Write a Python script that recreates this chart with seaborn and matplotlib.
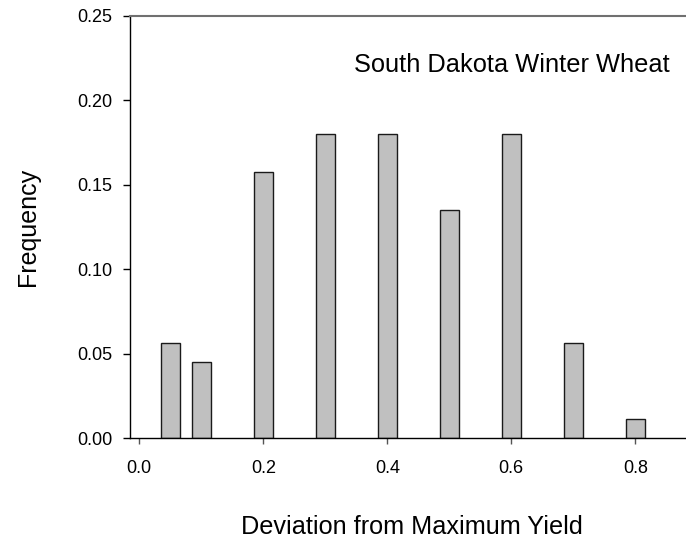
import matplotlib
matplotlib.use("Agg")
import matplotlib.pyplot as plt
import seaborn as sns
import pandas as pd

# Relative frequency of yield deviation classes
deviation = [0.05, 0.1, 0.2, 0.3, 0.4, 0.5, 0.6, 0.7, 0.8]
frequency = [0.0562, 0.0449, 0.1573, 0.1798, 0.1798, 0.1348, 0.1798, 0.0562, 0.0112]
x_ticks = [0.0, 0.2, 0.4, 0.6, 0.8]
y_ticks = [0.00, 0.05, 0.10, 0.15, 0.20, 0.25]

sns.set_theme(style="white")
plt.rcParams["font.family"] = ["Liberation Sans", "DejaVu Sans"]
plt.rcParams["text.color"] = "black"
plt.rcParams["axes.labelcolor"] = "black"
plt.rcParams["xtick.color"] = "black"
plt.rcParams["ytick.color"] = "black"

W, H = 686, 541
fig = plt.figure(figsize=(W / 100, H / 100), dpi=100)
left, right, bottom, top = 129.5, 686, 438.3, 15.7
ax = fig.add_axes([left / W, (H - bottom) / H, (right - left) / W, (bottom - top) / H])

df = pd.DataFrame({"deviation": deviation, "frequency": frequency})
sns.barplot(data=df, x="deviation", y="frequency", native_scale=True, width=0.6,
            color="#c0c0c0", saturation=1, edgecolor="#1a1a1a", linewidth=1.0, ax=ax)

x0 = 139.3
px_per_unit = 620.0
ax.set_xlim((left - x0) / px_per_unit, (right - x0) / px_per_unit)
ax.set_ylim(0, 0.25)
ax.set_xticks(x_ticks)
ax.set_xticklabels([f"{v:.1f}" for v in x_ticks])
ax.set_yticks(y_ticks)
ax.set_yticklabels([f"{v:.2f}" for v in y_ticks])

for side in ["left", "bottom"]:
    ax.spines[side].set_color("black")
    ax.spines[side].set_linewidth(1.0)
ax.spines["top"].set_color("#707070")
ax.spines["top"].set_linewidth(1.5)
ax.spines["right"].set_visible(False)

ax.tick_params(axis="y", direction="out", length=5, width=1, color="black",
               labelcolor="black", labelsize=13, pad=7.5, left=True)
ax.tick_params(axis="x", direction="out", length=4.5, width=1, color="#555555",
               labelcolor="black", labelsize=13, pad=11, bottom=True)

ax.set_xlabel("Deviation from Maximum Yield", fontsize=18.2, color="black")
ax.xaxis.label.set_verticalalignment("baseline")
ax.xaxis.set_label_coords(0.508, -0.2265)
ax.set_ylabel("Frequency", fontsize=18, color="black")
ax.yaxis.set_label_coords(-0.161, 0.5)

ax.text(0.403, 0.867, "South Dakota Winter Wheat", transform=ax.transAxes,
        ha="left", va="baseline", fontsize=18.3, color="black")

fig.savefig("out.png", dpi=100)
